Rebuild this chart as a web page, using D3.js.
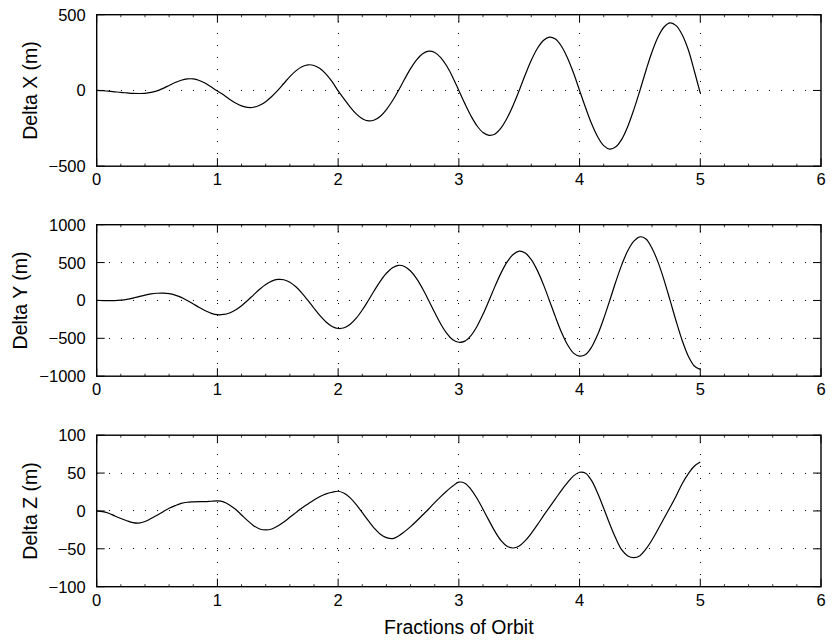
<!DOCTYPE html>
<html>
<head>
<meta charset="utf-8">
<script src="https://cdn.jsdelivr.net/npm/d3@7"></script>
<style>
  html, body { margin: 0; padding: 0; background: #fff; }
  svg { display: block; }
  text { font-family: "Liberation Sans", Arial, Helvetica, sans-serif; fill: #000; }
</style>
</head>
<body>
<svg id="chart" width="834" height="642"></svg>
<script>
// ---------------- data ----------------
const orbitFraction = [0,0.05,0.1,0.15,0.2,0.25,0.3,0.35,0.4,0.45,0.5,0.55,0.6,0.65,0.7,0.75,0.8,0.85,0.9,0.95,
  1,1.05,1.1,1.15,1.2,1.25,1.3,1.35,1.4,1.45,1.5,1.55,1.6,1.65,1.7,1.75,1.8,1.85,1.9,1.95,
  2,2.05,2.1,2.15,2.2,2.25,2.3,2.35,2.4,2.45,2.5,2.55,2.6,2.65,2.7,2.75,2.8,2.85,2.9,2.95,
  3,3.05,3.1,3.15,3.2,3.25,3.3,3.35,3.4,3.45,3.5,3.55,3.6,3.65,3.7,3.75,3.8,3.85,3.9,3.95,
  4,4.05,4.1,4.15,4.2,4.25,4.3,4.35,4.4,4.45,4.5,4.55,4.6,4.65,4.7,4.75,4.8,4.85,4.9,4.95,5];

const deltaX = [0,-2,-5,-9,-13,-16,-19,-20,-19,-13,-3,14,33,52,67,76,76,66,48,22,
  -4,-29,-58,-83,-102,-112,-111,-98,-74,-40,0,46,91,129,156,169,165,145,108,58,
  -3,-57,-110,-155,-187,-201,-195,-170,-126,-68,0,74,144,202,242,259,251,217,161,86,
  0,-87,-167,-233,-278,-296,-287,-247,-182,-97,0,103,199,277,330,352,339,292,215,115,
  0,-114,-220,-306,-364,-387,-372,-321,-236,-125,0,132,254,353,419,446,428,368,270,130,-18];

const deltaY = [0,-1,-3,-2,4,14,30,50,70,86,95,97,90,71,41,0,-46,-93,-136,-170,
  -188,-185,-165,-125,-69,0,74,147,210,255,277,273,240,180,97,0,-103,-201,-284,-343,
  -370,-361,-314,-234,-126,0,132,256,359,431,464,449,389,288,154,0,-160,-310,-434,-519,
  -552,-537,-464,-343,-183,0,189,364,509,607,650,625,539,397,212,0,-217,-419,-584,-695,
  -735,-713,-614,-451,-240,0,246,473,659,783,840,812,689,506,269,0,-274,-528,-733,-865,-910];

const deltaZ = [0,-1,-3,-6.6,-10,-13,-15.4,-16,-14,-10,-5.7,-1,3.5,7,10,11.5,12,12.3,12.3,12.8,
  13.2,12,8,2.2,-5.3,-12.8,-19.4,-23.8,-25.1,-23.8,-19.8,-14.5,-8.4,-2.2,4,9.3,14.5,19,22.5,24.7,
  26,23.3,17.2,8.4,-2.2,-12.8,-22.9,-30.8,-35.2,-36.6,-33,-27.3,-20.7,-13.2,-5.3,2.6,11,19,26.4,33,
  38,36.6,28.6,16.7,2.2,-12.8,-27.3,-39.2,-46.7,-48.9,-46.3,-39.2,-29.5,-18.5,-6.6,4.8,15.9,27.3,37.4,46.3,
  51.1,49.8,40,23.3,3.5,-17.2,-36.1,-51.5,-59.5,-61.7,-59,-50.2,-38.3,-24.2,-9.7,4.8,19.8,36,49,59,64.5];

const xTicks = [0,1,2,3,4,5,6];
const yTicksX = [-500,0,500];
const yTicksY = [-1000,-500,0,500,1000];
const yTicksZ = [-100,-50,0,50,100];
const yLabels = ["Delta X (m)","Delta Y (m)","Delta Z (m)"];
const xLabel = "Fractions of Orbit";

// ---------------- layout ----------------
const svg = d3.select("#chart");
const left = 96.7, right = 821;
const tops = [14.7, 224.7, 435.2];
const plotH = 151.5;
const tickFont = 16.5, labelFont = 19.5;
const majorLen = 8, minorLen = 2.5;

const panels = [
  {values: deltaX, ticks: yTicksX, label: yLabels[0]},
  {values: deltaY, ticks: yTicksY, label: yLabels[1]},
  {values: deltaZ, ticks: yTicksZ, label: yLabels[2]}
];

const x = d3.scaleLinear().domain([xTicks[0], xTicks[xTicks.length-1]]).range([left, right]);
const fmt = v => (v < 0 ? "\u2212" + Math.abs(v) : String(v));

panels.forEach((p, i) => {
  const top = tops[i], bottom = top + plotH;
  const y = d3.scaleLinear().domain([p.ticks[0], p.ticks[p.ticks.length-1]]).range([bottom, top]);
  const g = svg.append("g");

  // grid (dotted)
  xTicks.slice(1, -1).forEach(t => {
    g.append("line").attr("x1", x(t)).attr("x2", x(t)).attr("y1", bottom).attr("y2", top)
      .attr("stroke", "#000").attr("stroke-width", 1).attr("stroke-dasharray", "1 11")
      .attr("shape-rendering", "crispEdges");
  });
  p.ticks.slice(1, -1).forEach(t => {
    g.append("line").attr("x1", left).attr("x2", right).attr("y1", y(t)).attr("y2", y(t))
      .attr("stroke", "#000").attr("stroke-width", 1).attr("stroke-dasharray", "1 11")
      .attr("shape-rendering", "crispEdges");
  });

  // minor ticks on top/bottom
  const minor = d3.range(0, 6.0001, 0.2).filter(v => Math.abs(v - Math.round(v)) > 1e-6);
  minor.forEach(t => {
    g.append("line").attr("x1", x(t)).attr("x2", x(t)).attr("y1", bottom).attr("y2", bottom - minorLen)
      .attr("stroke", "#000").attr("stroke-width", 0.8);
    g.append("line").attr("x1", x(t)).attr("x2", x(t)).attr("y1", top).attr("y2", top + minorLen)
      .attr("stroke", "#000").attr("stroke-width", 0.8);
  });

  // major ticks
  xTicks.forEach(t => {
    g.append("line").attr("x1", x(t)).attr("x2", x(t)).attr("y1", bottom).attr("y2", bottom - majorLen)
      .attr("stroke", "#000").attr("stroke-width", 1);
    g.append("line").attr("x1", x(t)).attr("x2", x(t)).attr("y1", top).attr("y2", top + majorLen)
      .attr("stroke", "#000").attr("stroke-width", 1);
  });
  p.ticks.forEach(t => {
    g.append("line").attr("x1", left).attr("x2", left + majorLen).attr("y1", y(t)).attr("y2", y(t))
      .attr("stroke", "#000").attr("stroke-width", 1);
    g.append("line").attr("x1", right).attr("x2", right - majorLen).attr("y1", y(t)).attr("y2", y(t))
      .attr("stroke", "#000").attr("stroke-width", 1);
  });

  // curve
  const line = d3.line()
    .x((d, k) => x(orbitFraction[k]))
    .y(d => y(d))
    .curve(d3.curveCatmullRom.alpha(0.5));
  g.append("path").datum(p.values).attr("d", line)
    .attr("fill", "none").attr("stroke", "#000").attr("stroke-width", 1.2);

  // box
  g.append("rect").attr("x", left).attr("y", top).attr("width", right - left).attr("height", plotH)
    .attr("fill", "none").attr("stroke", "#000").attr("stroke-width", 1.4);

  // x tick labels
  xTicks.forEach(t => {
    g.append("text").attr("x", x(t)).attr("y", bottom + 19)
      .attr("text-anchor", "middle").attr("font-size", tickFont).text(fmt(t));
  });
  // y tick labels
  let minLeft = Infinity;
  p.ticks.forEach(t => {
    const tx = g.append("text").attr("x", left - 11).attr("y", y(t)).attr("dy", "0.36em")
      .attr("text-anchor", "end").attr("font-size", tickFont).text(fmt(t));
    minLeft = Math.min(minLeft, tx.node().getBBox().x);
  });
  // y label
  const cy = top + plotH / 2;
  const lx = minLeft - 19;
  g.append("text").attr("transform", `translate(${lx},${cy}) rotate(-90)`)
    .attr("text-anchor", "middle").attr("dy", "0.36em")
    .attr("font-size", labelFont).text(p.label);
});

svg.append("text").attr("x", (left + right) / 2).attr("y", 634)
  .attr("text-anchor", "middle").attr("font-size", labelFont).text(xLabel);
</script>
</body>
</html>
